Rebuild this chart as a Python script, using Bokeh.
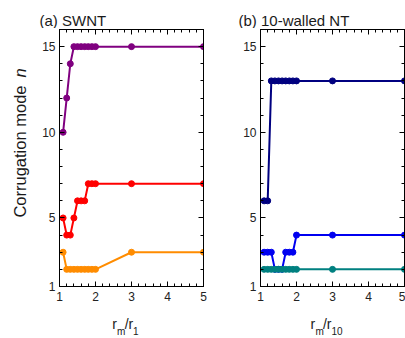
import math
from bokeh.plotting import figure
from bokeh.models import Range1d, FixedTicker, LinearAxis, Label
from bokeh.layouts import row, column
from bokeh.embed import file_html
from bokeh.resources import INLINE

# ---- data ----
x_ratio = [1.1, 1.2, 1.3, 1.4, 1.5, 1.6, 1.7, 1.8, 1.9, 2.0, 3.0, 5.0]

swnt_purple = [10, 12, 14, 15, 15, 15, 15, 15, 15, 15, 15, 15]
swnt_red = [5, 4, 4, 5, 6, 6, 6, 7, 7, 7, 7, 7]
swnt_orange = [3, 2, 2, 2, 2, 2, 2, 2, 2, 2, 3, 3]

mwnt_navy = [6, 6, 13, 13, 13, 13, 13, 13, 13, 13, 13, 13]
mwnt_blue = [3, 3, 3, 2, 2, 2, 3, 3, 3, 4, 4, 4]
mwnt_teal = [2, 2, 2, 2, 2, 2, 2, 2, 2, 2, 2, 2]

x_tick_values = [1, 2, 3, 4, 5]
y_tick_values = [1, 5, 10, 15]
x_minor_values = [1.2, 1.4, 1.6, 1.8, 2.2, 2.4, 2.6, 2.8, 3.2, 3.4, 3.6, 3.8, 4.2, 4.4, 4.6, 4.8]
y_minor_values = [2, 3, 4, 6, 7, 8, 9, 11, 12, 13, 14, 16]

panel_titles = ["(a) SWNT", "(b) 10-walled NT"]
x_label_subs = ["1", "10"]
y_label_text = "Corrugation mode"
y_label_italic = "n"

FONT = "Liberation Sans"
TXT = "#1a1a1a"
MID_H = 278


def style_axis(ax, ticker, show_labels, standoff):
    ax.ticker = ticker
    ax.axis_line_color = "black"
    ax.axis_line_width = 1
    ax.major_tick_line_color = "black"
    ax.minor_tick_line_color = "black"
    ax.major_tick_in = 5
    ax.major_tick_out = 0
    ax.minor_tick_in = 3
    ax.minor_tick_out = 0
    ax.axis_label = None
    if show_labels:
        ax.major_label_text_font = FONT
        ax.major_label_text_font_size = "12px"
        ax.major_label_text_color = "#222222"
        ax.major_label_standoff = standoff
    else:
        ax.major_label_text_font_size = "0px"
        ax.major_label_text_color = None
        ax.major_label_standoff = 0


def make_panel(width, left, right, series):
    p = figure(width=width, height=MID_H, x_range=Range1d(1, 5), y_range=Range1d(1, 16),
               output_backend="svg", toolbar_location=None,
               min_border_left=left, min_border_right=right,
               min_border_top=1, min_border_bottom=20)
    p.outline_line_color = "black"
    p.outline_line_width = 1
    p.xgrid.visible = False
    p.ygrid.visible = False
    p.background_fill_color = "white"
    p.border_fill_color = "white"

    xt = FixedTicker(ticks=x_tick_values, minor_ticks=x_minor_values)
    yt = FixedTicker(ticks=y_tick_values, minor_ticks=y_minor_values)
    style_axis(p.xaxis[0], xt, True, 5)
    style_axis(p.yaxis[0], yt, True, 4)
    top = LinearAxis()
    style_axis(top, xt, False, 0)
    p.add_layout(top, "above")
    rgt = LinearAxis()
    style_axis(rgt, yt, False, 0)
    p.add_layout(rgt, "right")

    for ys, color in series:
        p.line(x_ratio, ys, line_color=color, line_width=2)
        p.scatter(x_ratio, ys, size=6, fill_color=color, line_color=color)
    return p


def strip(w, h):
    s = figure(width=w, height=h, x_range=Range1d(0, 1), y_range=Range1d(0, 1),
               x_axis_location=None, y_axis_location=None, toolbar_location=None,
               output_backend="svg", min_border=0)
    s.outline_line_color = None
    s.border_fill_color = "white"
    s.background_fill_color = "white"
    for g in s.grid:
        g.visible = False
    return s


def lab(x, y, text, size, align="left", **kw):
    return Label(x=x, y=y, x_units="screen", y_units="screen", text=text,
                 text_font=FONT, text_font_size=size, text_color=TXT,
                 text_baseline="alphabetic", text_align=align, **kw)


# top strip with panel titles
top_strip = strip(405, 28)
top_strip.add_layout(lab(39, 8, panel_titles[0], "15px"))
top_strip.add_layout(lab(238, 8, panel_titles[1], "15px"))

# left strip with rotated y label (main part ends just below the italic n)
left_strip = strip(30, MID_H)
left_strip.add_layout(lab(19.5, 201, y_label_text, "16.5px", align="right", angle=math.pi / 2))
left_strip.add_layout(lab(19.5, 209, y_label_italic, "16.5px", angle=math.pi / 2,
                          text_font_style="italic"))

pa = make_panel(200, 29, 27,
                [(swnt_purple, "#800080"), (swnt_red, "#FF0000"), (swnt_orange, "#FF8C00")])
pb = make_panel(175, 30, 1,
                [(mwnt_navy, "#000080"), (mwnt_blue, "#0000F0"), (mwnt_teal, "#008080")])

# bottom strip with x labels r_m / r_sub
bottom_strip = strip(405, 32)
for x_start, sub in [(111.7, x_label_subs[0]), (310.0, x_label_subs[1])]:
    x0 = x_start
    parts = [("r", "14px", 15, 4.9), ("m", "10px", 7.5, 7.7), ("/", "14px", 15, 3.6),
             ("r", "14px", 15, 4.7), (sub, "10px", 7.5, 0)]
    for txt, fs, yy, adv in parts:
        bottom_strip.add_layout(lab(x0, yy, txt, fs))
        x0 += adv

layout = column(top_strip, row(left_strip, pa, pb), bottom_strip)
open("out.html", "w").write(file_html(layout, INLINE))
